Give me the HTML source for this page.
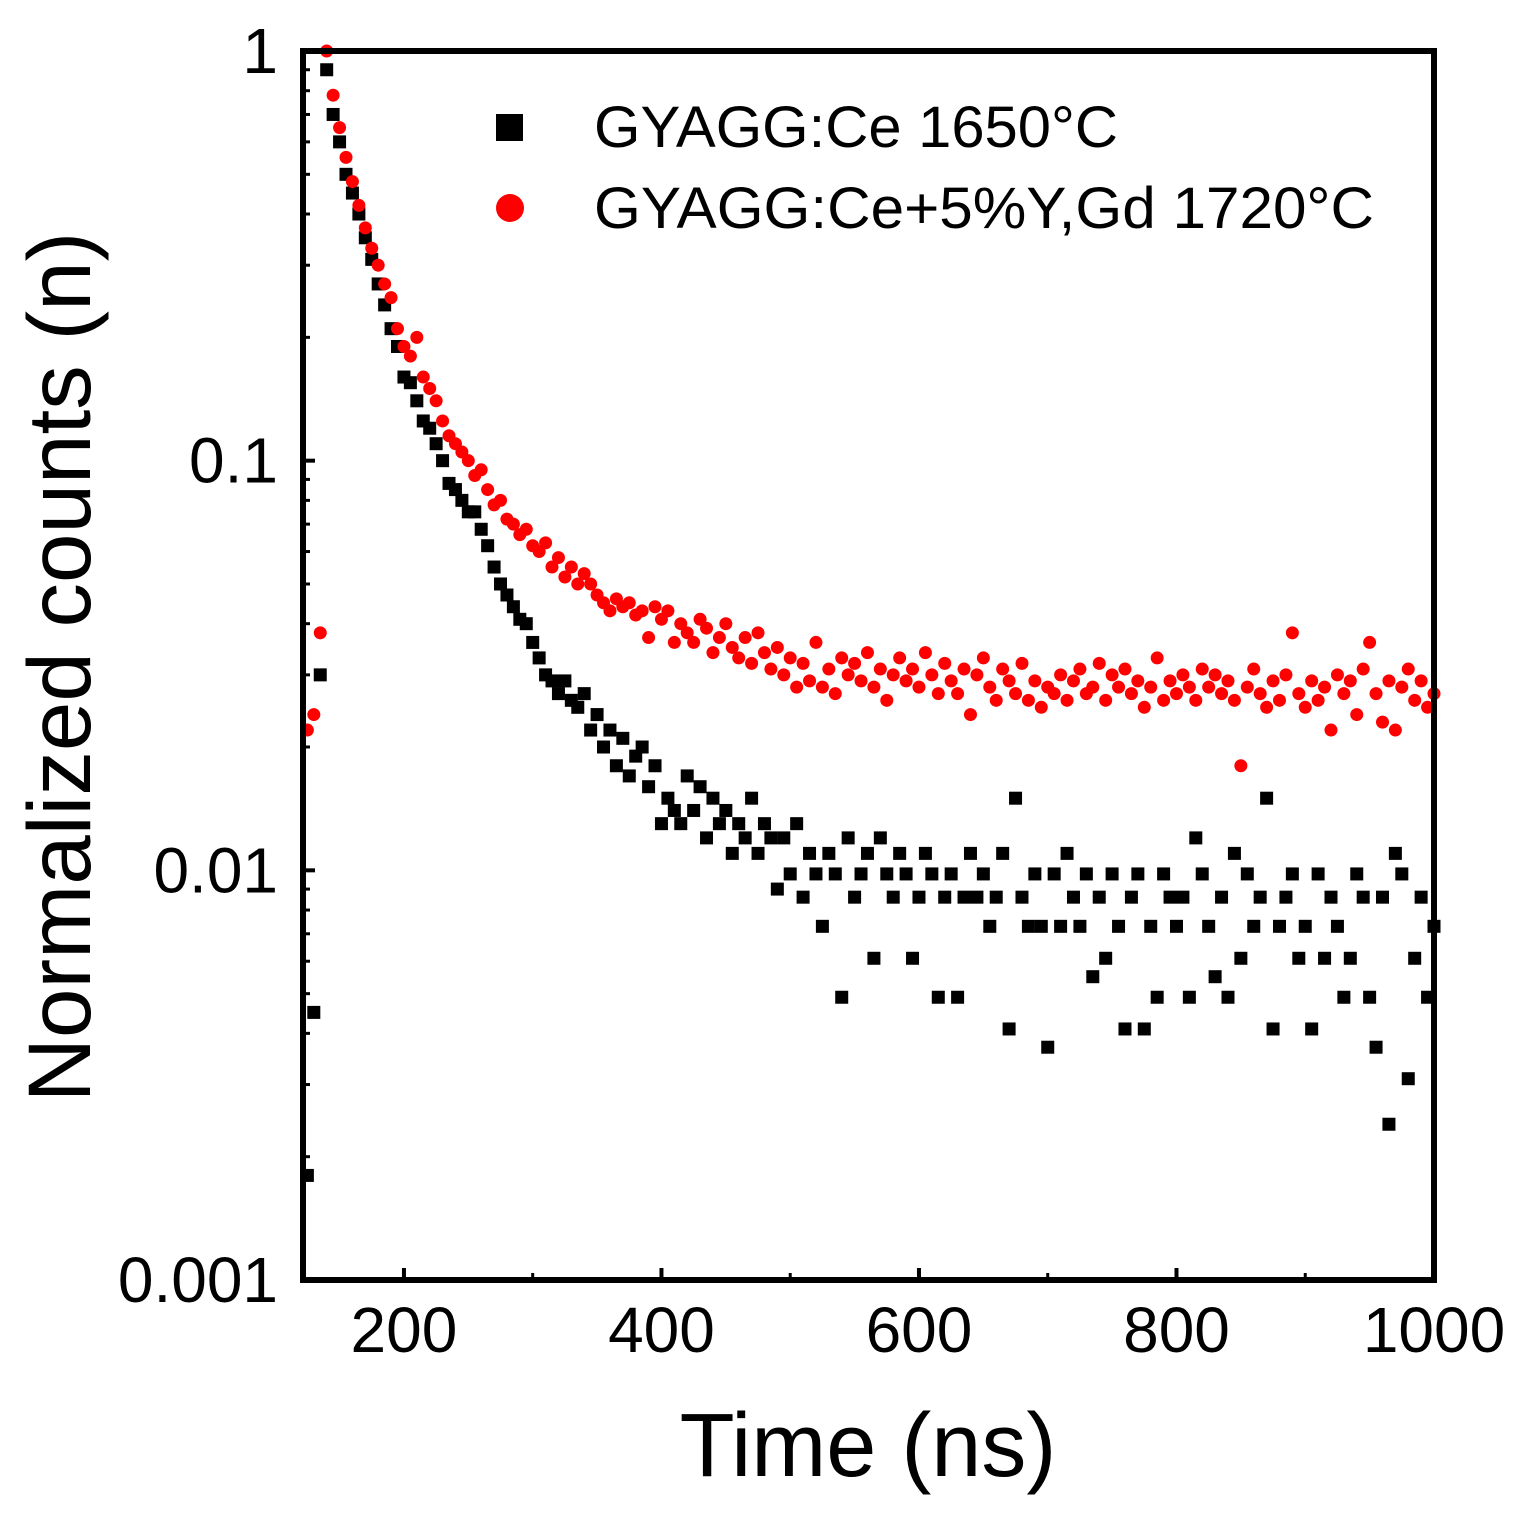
<!DOCTYPE html>
<html><head><meta charset="utf-8"><style>
body{margin:0;background:#fff;}
svg text{font-family:"Liberation Sans",Arial,sans-serif;}
</style></head><body>
<svg id="chart" width="1520" height="1517" viewBox="0 0 1520 1517" xmlns="http://www.w3.org/2000/svg">
<g id="marks"></g>
<g id="axes"></g>
<rect x="303" y="51" width="1131" height="1229" fill="none" stroke="#000" stroke-width="6"/>
<text x="868" y="1476" font-size="90" text-anchor="middle">Time (ns)</text>
<text transform="translate(90,667) rotate(-90)" font-size="89" text-anchor="middle">Normalized counts (n)</text>
<g>
<rect x="496" y="114" width="27" height="27" fill="#000"/>
<text x="594" y="147" font-size="58" textLength="524" lengthAdjust="spacingAndGlyphs">GYAGG:Ce 1650°C</text>
<circle cx="510" cy="208" r="14" fill="#f00"/>
<text x="594" y="228" font-size="58" textLength="780" lengthAdjust="spacingAndGlyphs">GYAGG:Ce+5%Y,Gd 1720°C</text>
</g>
</svg>
<script>
const times=[125,130,135,140,145,150,155,160,165,170,175,180,185,190,195,200,205,210,215,220,225,230,235,240,245,250,255,260,265,270,275,280,285,290,295,300,305,310,315,320,325,330,335,340,345,350,355,360,365,370,375,380,385,390,395,400,405,410,415,420,425,430,435,440,445,450,455,460,465,470,475,480,485,490,495,500,505,510,515,520,525,530,535,540,545,550,555,560,565,570,575,580,585,590,595,600,605,610,615,620,625,630,635,640,645,650,655,660,665,670,675,680,685,690,695,700,705,710,715,720,725,730,735,740,745,750,755,760,765,770,775,780,785,790,795,800,805,810,815,820,825,830,835,840,845,850,855,860,865,870,875,880,885,890,895,900,905,910,915,920,925,930,935,940,945,950,955,960,965,970,975,980,985,990,995,1000];
const black1650=[0.0018,0.0045,0.03,0.9,0.7,0.6,0.5,0.45,0.4,0.35,0.31,0.27,0.24,0.21,0.19,0.16,0.155,0.14,0.125,0.12,0.11,0.1,0.088,0.085,0.08,0.075,0.075,0.068,0.062,0.055,0.05,0.047,0.044,0.041,0.04,0.036,0.033,0.03,0.029,0.027,0.029,0.026,0.025,0.027,0.022,0.024,0.02,0.022,0.018,0.021,0.017,0.019,0.02,0.016,0.018,0.013,0.015,0.014,0.013,0.017,0.014,0.016,0.012,0.015,0.013,0.014,0.011,0.013,0.012,0.015,0.011,0.013,0.012,0.009,0.012,0.0098,0.013,0.0086,0.011,0.0098,0.0073,0.011,0.0098,0.0049,0.012,0.0086,0.0098,0.011,0.0061,0.012,0.0098,0.0086,0.011,0.0098,0.0061,0.0086,0.011,0.0098,0.0049,0.0086,0.0098,0.0049,0.0086,0.011,0.0086,0.0098,0.0073,0.0086,0.011,0.0041,0.015,0.0086,0.0073,0.0098,0.0073,0.0037,0.0098,0.0073,0.011,0.0086,0.0073,0.0098,0.0055,0.0086,0.0061,0.0098,0.0073,0.0041,0.0086,0.0098,0.0041,0.0073,0.0049,0.0098,0.0086,0.0073,0.0086,0.0049,0.012,0.0098,0.0073,0.0055,0.0086,0.0049,0.011,0.0061,0.0098,0.0073,0.0086,0.015,0.0041,0.0073,0.0086,0.0098,0.0061,0.0073,0.0041,0.0098,0.0061,0.0086,0.0073,0.0049,0.0061,0.0098,0.0086,0.0049,0.0037,0.0086,0.0024,0.011,0.0098,0.0031,0.0061,0.0086,0.0049,0.0073];
const red1720=[0.022,0.024,0.038,1.0,0.78,0.65,0.55,0.48,0.42,0.37,0.33,0.3,0.27,0.25,0.21,0.19,0.18,0.2,0.16,0.15,0.14,0.125,0.115,0.11,0.105,0.1,0.092,0.095,0.085,0.078,0.08,0.072,0.07,0.066,0.068,0.062,0.06,0.063,0.055,0.058,0.052,0.055,0.05,0.053,0.05,0.047,0.045,0.043,0.046,0.044,0.045,0.042,0.043,0.037,0.044,0.041,0.043,0.036,0.04,0.038,0.036,0.041,0.039,0.034,0.037,0.04,0.035,0.033,0.037,0.032,0.038,0.034,0.031,0.035,0.03,0.033,0.028,0.032,0.029,0.036,0.028,0.031,0.027,0.033,0.03,0.032,0.029,0.034,0.028,0.031,0.026,0.03,0.033,0.029,0.031,0.028,0.034,0.03,0.027,0.032,0.029,0.027,0.031,0.024,0.03,0.033,0.028,0.026,0.031,0.029,0.027,0.032,0.026,0.029,0.025,0.028,0.027,0.03,0.026,0.029,0.031,0.027,0.028,0.032,0.026,0.03,0.028,0.031,0.027,0.029,0.025,0.028,0.033,0.026,0.029,0.027,0.03,0.028,0.026,0.031,0.028,0.03,0.027,0.029,0.026,0.018,0.028,0.031,0.027,0.025,0.029,0.026,0.03,0.038,0.027,0.025,0.029,0.026,0.028,0.022,0.03,0.027,0.029,0.024,0.031,0.036,0.027,0.023,0.029,0.022,0.028,0.031,0.026,0.029,0.025,0.027];
const xTicks=[200,400,600,800,1000];
const xMinor=[300,500,700,900];
const yTicks=[1,0.1,0.01,0.001];
const yTickLabels=["1","0.1","0.01","0.001"];

const L=303,R=1434,T=51,B=1280,XMIN=121.6,XMAX=1000;
const sx=v=>L+(v-XMIN)/(XMAX-XMIN)*(R-L);
const sy=v=>T+(-Math.log10(v))/3*(B-T);
const NS="http://www.w3.org/2000/svg";
const marks=document.getElementById('marks'),axes=document.getElementById('axes');
function mk(tag,attrs,parent){const e=document.createElementNS(NS,tag);for(const k in attrs)e.setAttribute(k,attrs[k]);parent.appendChild(e);return e;}
const n=Math.min(times.length,black1650.length);
for(let i=0;i<n;i++){
  const x=sx(times[i]),y=sy(black1650[i]);
  if(y<T||y>B)continue;
  const r=mk('rect',{x:x-6.5,y:y-6.5,width:13,height:13,fill:'#000'},marks);
  
  
}
const m=Math.min(times.length,red1720.length);
for(let i=0;i<m;i++){
  const x=sx(times[i]),y=sy(red1720[i]);
  if(y<T||y>B)continue;
  const c=mk('circle',{cx:x,cy:y,r:6.5,fill:'#f00'},marks);
  
  
}
xTicks.forEach(v=>{
  const x=sx(v);
  const l=mk('line',{x1:x,x2:x,y1:B,y2:B-12,stroke:'#000','stroke-width':4},axes);
  
  
  const t=mk('text',{x:x,y:1352,'font-size':64,'text-anchor':'middle'},axes);
  t.textContent=v;
  
  
});
xMinor.forEach(v=>{
  const x=sx(v);
  const l=mk('line',{x1:x,x2:x,y1:B,y2:B-7,stroke:'#000','stroke-width':3},axes);
  
  
});
yTicks.forEach((v,i)=>{
  const y=sy(v);
  const l=mk('line',{x1:L,x2:L+12,y1:y,y2:y,stroke:'#000','stroke-width':4},axes);
  
  
  const t=mk('text',{x:278,y:y+22,'font-size':64,'text-anchor':'end'},axes);
  t.textContent=yTickLabels[i];
  
  
  if(i<yTicks.length-1){
    for(let k=2;k<=9;k++){
      const yy=sy(v/10*k);
      const ml=mk('line',{x1:L,x2:L+7,y1:yy,y2:yy,stroke:'#000','stroke-width':3},axes);
      
      
    }
  }
});
</script>
</body></html>
